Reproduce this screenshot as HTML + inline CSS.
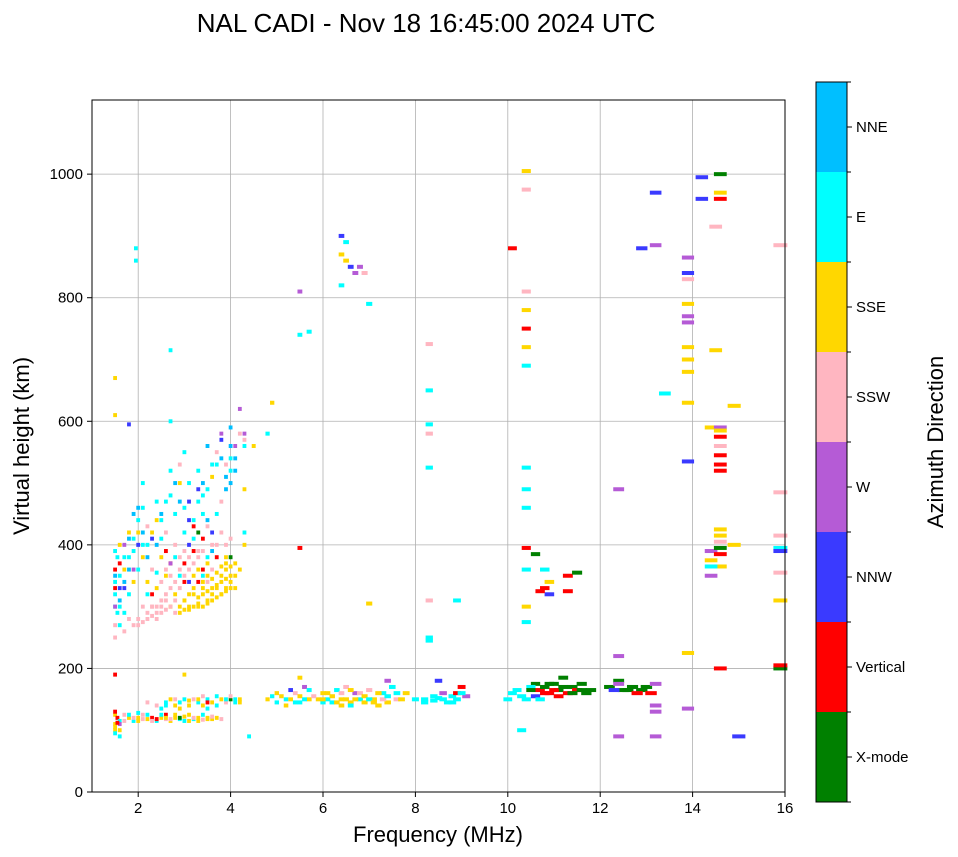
<!DOCTYPE html>
<html><head><meta charset="utf-8">
<style>
html,body{margin:0;padding:0;background:#fff;}
svg{display:block;font-family:"Liberation Sans","DejaVu Sans",sans-serif;}
</style></head>
<body>
<svg id="chart" width="958" height="857" viewBox="0 0 958 857" xmlns="http://www.w3.org/2000/svg">
<text x="426" y="32" font-size="26" text-anchor="middle">NAL CADI - Nov 18 16:45:00 2024 UTC</text>
<g id="grid"></g>
<g id="marks"></g>
<rect x="92" y="100" width="693" height="692" fill="none" stroke="#000" stroke-width="1"/>
<g id="axes"></g>
<text x="438" y="842" font-size="22" text-anchor="middle">Frequency (MHz)</text>
<text transform="translate(29,446) rotate(-90)" font-size="22" text-anchor="middle">Virtual height (km)</text>
<g id="cbar"></g>
<text transform="translate(943,442) rotate(-90)" font-size="22" text-anchor="middle">Azimuth Direction</text>
</svg>
<script>
const categories=["X-mode","Vertical","NNW","W","SSW","SSE","E","NNE"];
const colors=["#008000","#ff0000","#3a3aff","#b55bd6","#ffb6c1","#ffd700","#00ffff","#00bfff"];
const xTicks=[2,4,6,8,10,12,14,16];
const yTicks=[0,200,400,600,800,1000];
const freqs=[], heights=[], dirs=[];
const points=[
[1.5,125,5],[1.5,110,5],[1.5,100,5],[1.55,120,1],[1.6,90,6],[1.6,115,6],[1.7,125,4],[1.8,120,5],[1.9,115,6],[2.0,120,5],[2.1,125,4],[2.2,118,5],[2.3,120,1],[2.4,115,6],[2.5,120,5],[2.6,118,4],[2.7,115,5],[2.8,120,5],[2.9,118,6],[3.0,122,5],[3.1,115,5],[3.2,118,6],[3.3,120,5],[3.4,117,4],[3.5,120,5],[3.6,118,5],[1.5,130,1],[2.0,128,6],[2.6,125,1],
[2.4,140,4],[2.6,145,6],[2.7,150,5],[2.8,140,5],[2.9,145,6],[3.0,150,6],[3.1,140,5],[3.2,150,4],[3.3,145,6],[3.4,140,5],[3.5,150,6],[3.6,145,5],[3.7,140,6],[3.8,150,5],[3.9,145,4],[4.0,150,0],[4.1,145,6],[3.0,190,5],[4.2,150,5],[4.4,90,6],[1.5,190,1],[2.2,145,4],[3.5,135,6],
[1.5,105,5],[1.6,110,3],[1.7,115,4],[1.8,125,6],[1.9,120,4],[2.0,115,5],[2.1,118,4],[2.2,125,6],[2.3,115,4],[2.4,118,1],[2.5,125,6],[2.6,120,5],[2.7,118,4],[2.8,125,5],[2.9,120,0],[3.0,115,6],[3.1,125,5],[3.2,120,4],[3.3,115,5],[3.4,125,6],[3.5,118,5],[3.6,122,4],[3.7,120,5],[3.8,118,4],[3.3,150,5],[3.4,155,4],[3.5,145,1],[3.7,155,6],[3.9,150,6],[4.0,155,4],[4.1,150,6],[4.2,145,5],[2.8,150,4],[2.6,140,6],[2.5,135,6],[2.9,135,5],[3.1,148,5],[1.5,95,6],[1.6,100,5],[1.55,112,1],
[4.8,150,5],[5.0,145,6],[5.1,155,5],[5.2,150,6],[5.3,165,2],[5.4,160,4],[5.5,145,6],[5.5,185,5],[5.6,170,3],[5.7,150,5],[5.9,150,5],[6.1,160,5],[6.2,145,6],[6.3,165,6],[6.4,150,5],[6.5,170,4],[6.6,145,5],[6.7,160,3],[6.8,150,6],[6.9,145,5],[7.0,165,4],[7.1,150,5],[7.3,160,6],[7.4,145,5],[7.5,170,6],[7.6,150,4],[7.8,160,5],[8.0,150,6],[8.2,150,6],[8.4,155,6],[8.5,180,2],[8.6,150,6],[8.8,155,6],[8.9,160,1],[9.0,170,1],[9.1,155,3],[6.0,145,6],[7.2,140,5],[8.7,145,6],
[4.9,155,6],[5.0,160,5],[5.2,140,5],[5.3,150,5],[5.4,145,6],[5.5,155,5],[5.6,150,6],[5.7,165,6],[5.8,155,4],[6.0,160,5],[6.1,150,6],[6.2,155,5],[6.3,145,5],[6.4,160,4],[6.5,150,5],[6.6,165,5],[6.7,150,5],[6.8,160,4],[6.9,155,5],[7.0,150,6],[7.1,145,5],[7.2,160,5],[7.3,150,4],[7.4,155,6],[7.6,160,6],[7.7,150,5],[8.2,145,6],[8.4,148,6],[8.5,152,6],[8.6,160,3],[8.8,145,6],[8.9,150,6],[9.0,160,6],[6.4,140,5],[6.6,140,6],[6.0,150,5],
[10.1,160,6],[10.2,165,6],[10.4,150,6],[10.6,155,2],[10.6,175,0],[10.7,165,1],[10.8,170,0],[10.9,160,1],[11.0,175,0],[11.1,165,0],[11.2,185,0],[11.3,160,1],[11.4,170,0],[11.5,165,1],[11.6,175,0],[11.7,160,0],[11.8,165,0],[12.2,170,0],[12.4,180,0],[12.5,165,0],[12.7,170,0],[12.9,165,0],[13.1,160,1],[12.4,175,3],[10.0,150,6],[10.3,100,6],[10.5,170,6],
[10.5,165,0],[10.8,160,1],[10.9,175,0],[11.0,165,1],[11.1,155,1],[11.2,170,0],[11.4,160,0],[11.6,165,0],[12.6,165,0],[12.8,160,1],[13.0,170,0],[10.7,150,6],[10.3,155,6],[12.3,165,2],
[12.4,90,3],[13.2,90,3],[13.2,130,3],[13.2,140,3],[13.2,175,3],[13.9,135,3],[15.0,90,2],[12.4,220,3],[14.6,200,1],[15.9,200,0],[15.9,205,1],
[1.5,270,4],[1.5,300,6],[1.5,320,6],[1.5,340,6],[1.5,360,1],[1.55,380,6],[1.6,310,7],[1.6,350,6],[1.6,400,5],[1.7,330,2],[1.7,290,6],[1.7,360,5],[1.8,280,4],[1.8,320,6],[1.8,380,6],[1.8,420,5],[1.9,270,4],[1.9,340,5],[1.9,390,6],[2.0,280,4],[2.0,360,6],[2.0,420,5],[2.0,440,6],[2.1,300,4],[2.1,380,5],[2.1,460,6],[2.2,290,4],[2.2,340,5],[2.2,400,6],[2.3,300,4],[2.3,360,4],[2.3,420,5],[2.4,290,4],[2.4,330,5],[2.4,470,6],[2.5,300,4],[2.5,380,5],[2.5,440,6],[2.6,310,4],[2.6,350,5],[2.6,420,4],[2.7,300,5],[2.7,370,1],[2.7,480,6],[2.8,320,5],[2.8,400,4],[2.8,450,6],[2.9,300,5],[2.9,360,4],[2.9,500,5],[3.0,310,5],[3.0,340,1],[3.0,420,6],[3.1,300,5],[3.1,380,4],[3.1,470,2],[3.2,320,5],[3.2,350,5],[3.2,440,6],[3.3,300,5],[3.3,390,4],[3.3,520,6],[3.4,330,5],[3.4,360,1],[3.4,450,6],[3.5,310,5],[3.5,370,5],[3.5,490,6],[3.5,560,7],[3.6,320,5],[3.6,400,4],[3.6,510,5],[3.7,330,5],[3.7,380,1],[3.7,530,6],[3.8,320,5],[3.8,350,5],[3.8,420,4],[3.8,540,7],[3.9,330,5],[3.9,370,5],[3.9,510,7],[4.0,340,5],[4.0,380,0],[4.0,560,7],[4.0,520,6],[4.1,350,5],[4.1,540,7],[4.2,360,5],[4.2,620,3],[4.3,400,5],[4.3,420,6],[4.3,490,5],[4.3,560,6],[4.3,580,3],[4.5,560,5],[4.8,580,6],[4.9,630,5],
[2.9,290,5],[3.0,295,5],[3.1,295,5],[3.2,300,5],[3.3,305,5],[3.4,300,5],[3.5,305,5],[3.6,310,5],[3.7,315,5],[3.8,320,5],[3.9,325,5],[4.0,330,5],[3.3,315,5],[3.4,320,5],[3.5,325,5],[3.6,330,5],[3.7,335,5],[3.8,340,5],[3.9,345,5],[4.0,350,5],[3.6,345,5],[3.7,355,5],[3.8,365,5],[3.9,360,5],[4.0,365,5],[3.4,340,5],[3.2,330,5],[3.1,320,5],[3.5,350,5],[4.1,330,5],[4.1,370,5],[3.9,380,5],[3.3,360,5],[3.0,310,5],
[2.0,270,4],[2.1,275,4],[2.2,280,4],[2.3,285,4],[2.4,280,4],[2.5,290,4],[2.6,295,4],[2.7,300,4],[2.8,310,4],[2.4,300,4],[2.5,310,4],[2.6,320,4],[2.7,330,4],[2.8,340,4],[2.9,330,4],[3.0,350,4],[3.1,360,4],[3.2,370,4],[2.9,380,4],[3.0,390,4],[3.3,380,4],[2.6,360,4],[2.7,350,4],[2.5,340,4],[3.5,340,4],[3.6,360,4],[3.4,390,4],[2.8,290,4],[2.3,300,4],[3.7,400,4],[4.0,410,4],[3.9,400,4],
[1.5,330,1],[1.5,350,7],[1.5,390,6],[1.6,370,1],[1.6,330,2],[1.6,300,6],[1.7,340,7],[1.7,380,6],[1.7,400,3],[1.8,410,7],[1.8,360,7],[1.9,410,6],[1.9,360,3],[2.0,400,2],[2.1,420,7],[2.1,400,6],[1.5,300,3],[1.55,290,6],[1.6,270,6],[1.7,260,4],[1.5,250,4],[2.2,380,7],[2.4,400,7],[2.5,410,6],[2.6,390,1],[2.7,370,3],[2.8,380,6],[2.9,350,6],[3.0,370,1],[3.1,400,2],[3.2,410,6],[3.3,420,0],[3.4,410,1],[3.5,380,6],[3.6,390,7],[3.2,390,1],[3.1,340,2],[3.3,340,1],[3.4,350,6],[2.3,320,1],[2.4,355,6],[2.2,320,6],
[2.7,520,6],[2.8,500,7],[2.9,470,7],[3.0,460,6],[3.1,440,2],[3.2,430,1],[3.3,470,6],[3.3,490,2],[3.4,480,6],[3.5,430,4],[3.5,440,7],[3.6,420,2],[3.7,450,6],[3.8,470,4],[3.9,490,7],[4.0,500,7],[4.0,540,6],[4.1,520,7],[4.1,560,3],[4.0,590,7],[4.2,580,4],[4.3,570,4],[3.9,530,4],[3.8,570,2],[3.8,580,3],[3.7,550,4],[3.6,530,6],[3.4,500,7],[2.5,450,7],[2.6,470,6],[2.4,440,5],[2.2,430,4],[2.0,460,7],[1.9,450,7],[2.1,500,6],[2.3,410,2],[2.9,530,4],[3.0,550,6],[3.1,500,6],
[1.5,670,5],[1.5,610,5],[1.8,595,2],[1.95,880,6],[1.95,860,6],[2.7,715,6],[2.7,600,6],[5.5,810,3],[5.5,740,6],[5.7,745,6],[5.5,395,1],[6.4,900,2],[6.5,890,6],[6.4,870,5],[6.5,860,5],[6.6,850,2],[6.7,840,3],[6.8,850,3],[6.9,840,4],[6.4,820,6],[7.0,790,6],[7.0,305,5],[7.4,180,3],
[8.3,725,4],[8.3,650,6],[8.3,595,6],[8.3,580,4],[8.3,525,6],[8.3,310,4],[8.3,250,6],[8.3,245,6],[8.9,310,6],
[10.1,880,1],[10.4,1005,5],[10.4,975,4],[10.4,810,4],[10.4,780,5],[10.4,750,1],[10.4,720,5],[10.4,690,6],[10.4,525,6],[10.4,490,6],[10.4,460,6],[10.4,395,1],[10.4,360,6],[10.4,300,5],[10.4,275,6],[10.6,385,0],[10.8,360,6],[10.9,340,5],[10.8,330,1],[10.9,320,2],[10.7,325,1],[11.3,350,1],[11.5,355,0],[11.3,325,1],
[12.4,490,3],[12.9,880,2],[13.2,885,3],[13.2,970,2],[13.4,645,6],[13.9,865,3],[13.9,840,2],[13.9,830,4],[13.9,790,5],[13.9,770,3],[13.9,760,3],[13.9,720,5],[13.9,700,5],[13.9,680,5],[13.9,630,5],[13.9,535,2],[13.9,225,5],[14.2,995,2],[14.2,960,2],[14.5,915,4],[14.5,715,5],[14.4,590,5],[14.4,390,3],[14.4,375,5],[14.4,350,3],[14.6,1000,0],[14.6,970,5],[14.6,960,1],[14.6,590,3],[14.6,585,5],[14.6,575,1],[14.6,560,4],[14.6,545,1],[14.6,530,1],[14.6,520,1],[14.6,425,5],[14.6,415,5],[14.6,405,4],[14.6,395,0],[14.6,385,1],[14.6,365,5],[14.4,365,6],[14.9,625,5],[14.9,400,5],[15.9,885,4],[15.9,485,4],[15.9,415,4],[15.9,395,6],[15.9,390,2],[15.9,355,4],[15.9,310,5]
];
points.forEach(p=>{freqs.push(p[0]);heights.push(p[1]);dirs.push(p[2]);});

const NS="http://www.w3.org/2000/svg";
const X=f=>92+(f-1)*(693/15);
const Y=h=>792-h*(692/1120);
function mk(tag,attrs,parent){const e=document.createElementNS(NS,tag);for(const k in attrs)e.setAttribute(k,attrs[k]);parent.appendChild(e);return e;}
const grid=document.getElementById('grid'),axes=document.getElementById('axes'),marks=document.getElementById('marks'),cbar=document.getElementById('cbar');
xTicks.forEach(t=>{
  const g=mk('line',{x1:X(t),x2:X(t),y1:100,y2:792,stroke:'#b0b0b0','stroke-width':0.8},grid);
  
  
  const tk=mk('line',{x1:X(t),x2:X(t),y1:792,y2:797,stroke:'#000'},axes);
  
  
  const lb=mk('text',{x:X(t),y:813,'font-size':15,'text-anchor':'middle'},axes);
  lb.textContent=t;
  
  
});
yTicks.forEach(t=>{
  const g=mk('line',{x1:92,x2:785,y1:Y(t),y2:Y(t),stroke:'#b0b0b0','stroke-width':0.8},grid);
  
  
  const tk=mk('line',{x1:87,x2:92,y1:Y(t),y2:Y(t),stroke:'#000'},axes);
  
  
  const lb=mk('text',{x:83,y:Y(t)+5,'font-size':15,'text-anchor':'end'},axes);
  lb.textContent=t;
  
  
});
for(let i=0;i<freqs.length;i++){
  const f=freqs[i],h=heights[i];
  const w=Math.max(3.8,f*0.019*(693/15));
  const r=mk('rect',{x:X(f)-w/2,y:Y(h)-2,width:w,height:4,fill:colors[dirs[i]]},marks);
  
  
}
const cbTop=82,cbH=720,seg=cbH/categories.length;
categories.forEach((c,i)=>{
  const y0=cbTop+cbH-(i+1)*seg;
  const r=mk('rect',{x:816,y:y0,width:31,height:seg,fill:colors[i]},cbar);
  
  
  const tk=mk('line',{x1:847,x2:852,y1:y0+seg/2,y2:y0+seg/2,stroke:'#000'},cbar);
  
  
  const lb=mk('text',{x:856,y:y0+seg/2+5,'font-size':15},cbar);
  lb.textContent=c;
  
  
});
for(let i=0;i<=categories.length;i++){
  const t=mk('line',{x1:847,x2:851,y1:cbTop+i*seg,y2:cbTop+i*seg,stroke:'#000'},cbar);
  
  
}
const fr=mk('rect',{x:816,y:cbTop,width:31,height:cbH,fill:'none',stroke:'#000'},cbar);


</script>
</body></html>
